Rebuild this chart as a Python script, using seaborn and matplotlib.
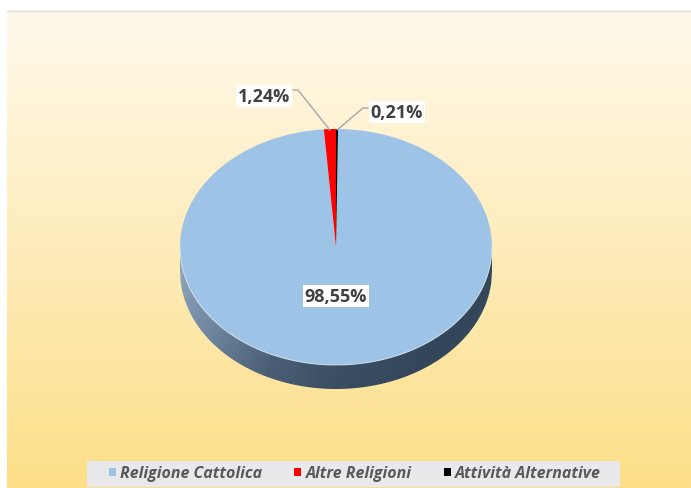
import numpy as np
import matplotlib
matplotlib.use("Agg")
import matplotlib.pyplot as plt
import matplotlib.colors as mcolors
from matplotlib.patches import Polygon, Rectangle
from matplotlib.lines import Line2D
import seaborn as sns

# ---- data ----
categories = ["Religione Cattolica", "Altre Religioni", "Attività Alternative"]
shares = [98.55, 1.24, 0.21]
slice_colors = ["#9DC3E6", "#FF0000", "#000000"]

sns.set_theme(style="white")
plt.rcParams["font.family"] = ["Open Sans", "DejaVu Sans"]

W, H = 691, 489
fig = plt.figure(figsize=(W / 100, H / 100), dpi=100)
fig.patch.set_facecolor("white")

# background panel with a vertical cream-to-yellow gradient (pixel coordinates, y down)
bg = fig.add_axes([0, 0, 1, 1])
bg.set_xlim(0, W)
bg.set_ylim(H, 0)
bg.axis("off")
top_c = np.array(mcolors.to_rgb("#FFF9EC"))
bot_c = np.array(mcolors.to_rgb("#FDDF88"))
t = np.linspace(0, 1, 256)[:, None, None]
grad = top_c * (1 - t) + bot_c * t
grad = np.repeat(grad, 2, axis=1)
bg.imshow(grad, extent=(7, W, H, 11), origin="upper", aspect="auto", zorder=0)
bg.plot([7, W], [11.5, 11.5], color="#E2DED6", lw=1, zorder=1)

# pie axes: circle squashed vertically to give a tilted look
cx, cy = 336, 248          # centre of the top face (pixels)
rx, ry = 156, 118          # semi-axes of the top face
depth = 24                 # thickness of the disc (pixels)
aw, ah = 2.5 * rx, 2.5 * ry
ax = fig.add_axes([(cx - aw / 2) / W, (H - cy - ah / 2) / H, aw / W, ah / H])
ax.patch.set_alpha(0)

wedges, _ = ax.pie(
    shares,
    colors=slice_colors,
    startangle=90 - 3.6 * shares[2],
    counterclock=False,
    wedgeprops=dict(linewidth=0),
)
ax.set_aspect("auto")
ax.set_xlim(-1.25, 1.25)
ax.set_ylim(-1.25, 1.25)
ax.axis("off")
for w in wedges:
    w.set_zorder(3)

# side wall of the disc with a light-to-dark shading
d = depth / ry
xs = np.linspace(-1, 1, 400)
upper = -np.sqrt(np.clip(1 - xs ** 2, 0, None))
lower = upper - d
verts = list(zip(xs, upper)) + list(zip(xs[::-1], lower[::-1]))
side = Polygon(verts, closed=True, facecolor="none", edgecolor="none")
ax.add_patch(side)
side_cmap = mcolors.LinearSegmentedColormap.from_list(
    "side", ["#93A8C0", "#6E859E", "#4A5F76", "#3A4D62", "#34465A"]
)
gx = np.linspace(0, 1, 300)[None, :]
gy = np.linspace(0, 0.25, 60)[:, None]
shade = np.clip(gx + gy, 0, 1)
im = ax.imshow(shade, cmap=side_cmap, extent=(-1, 1, -1 - d, 0), origin="upper",
               aspect="auto", zorder=1, interpolation="bilinear")
im.set_clip_path(side)
ax.plot(xs, upper, color="#DCE8F4", lw=0.8, alpha=0.7, zorder=4)

# overlay axes for labels, leader lines and legend
fg = fig.add_axes([0, 0, 1, 1])
fg.set_xlim(0, W)
fg.set_ylim(H, 0)
fg.axis("off")
fg.patch.set_alpha(0)


def fmt(v):
    return f"{v:.2f}".replace(".", ",") + "%"


def edge_point(wedge):
    mid = np.deg2rad((wedge.theta1 + wedge.theta2) / 2)
    pix = ax.transData.transform((np.cos(mid), np.sin(mid)))
    return fg.transData.inverted().transform(pix)


label_box = dict(boxstyle="square,pad=0.12", facecolor="white", edgecolor="none")
label_kw = dict(fontsize=13, fontweight="bold", color="#404040",
                ha="center", va="center", bbox=label_box, zorder=6)

# large slice label inside the disc
fg.text(336, 297, fmt(shares[0]), **label_kw)

# small slices: outside labels with leader lines
lx1, ly1 = 264, 97
fg.text(lx1, ly1, fmt(shares[1]), **label_kw)
px, py = edge_point(wedges[1])
fg.add_line(Line2D([293, 298, px], [91, 91, py + 1], color="#A6A6A6", lw=1, zorder=5))

lx2, ly2 = 397, 113
fg.text(lx2, ly2, fmt(shares[2]), **label_kw)
px, py = edge_point(wedges[2])
fg.add_line(Line2D([368, 363, px], [109, 109, py + 1], color="#A6A6A6", lw=1, zorder=5))

# legend strip
fg.add_patch(Rectangle((87, 462), 533, 26, facecolor="#E9E9EB", edgecolor="none", zorder=2))
leg = fg.legend(
    wedges, categories,
    loc="center", bbox_to_anchor=(355 / W, 1 - 474.5 / H), bbox_transform=fig.transFigure,
    ncol=3, frameon=False, handlelength=0.42, handleheight=0.42, handletextpad=0.3,
    columnspacing=2.0, borderpad=0,
    prop=dict(family=["Open Sans", "DejaVu Sans"], weight="bold", style="italic", size=11.5),
)
for txt in leg.get_texts():
    txt.set_color("#595959")
leg.set_zorder(7)

fig.savefig("out.png", dpi=100)
